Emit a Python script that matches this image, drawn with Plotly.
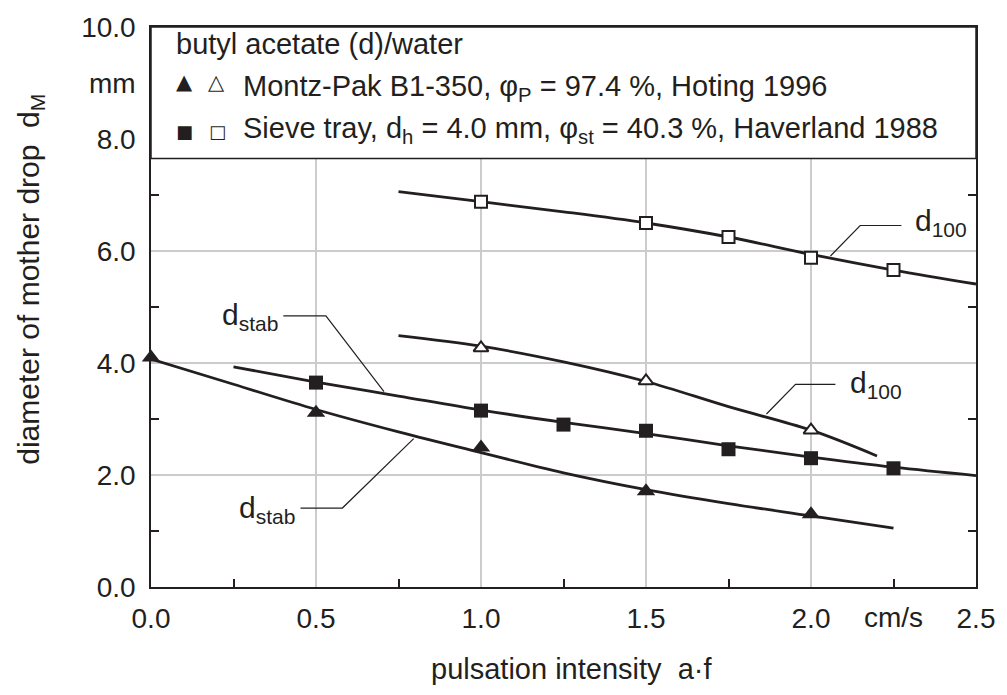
import plotly.graph_objects as go

# ---- data ----
# Montz-Pak B1-350 (triangles)
montz_stab_x = [0.0, 0.5, 1.0, 1.5, 2.0]
montz_stab_y = [4.10, 3.11, 2.49, 1.71, 1.30]
montz_d100_x = [1.0, 1.5, 2.0]
montz_d100_y = [4.27, 3.68, 2.80]
# Sieve tray (squares)
sieve_stab_x = [0.5, 1.0, 1.25, 1.5, 1.75, 2.0, 2.25]
sieve_stab_y = [3.65, 3.15, 2.90, 2.79, 2.46, 2.30, 2.12]
sieve_d100_x = [1.0, 1.5, 1.75, 2.0, 2.25]
sieve_d100_y = [6.88, 6.50, 6.25, 5.88, 5.66]

# fitted curves
fit_montz_stab_x = [0.0, 0.25, 0.5, 0.75, 1.0, 1.25, 1.5, 1.75, 2.0, 2.25]
fit_montz_stab_y = [4.07, 3.62, 3.17, 2.77, 2.40, 2.04, 1.74, 1.49, 1.27, 1.05]
fit_montz_d100_x = [0.75, 1.0, 1.25, 1.5, 1.75, 2.0, 2.2]
fit_montz_d100_y = [4.49, 4.30, 4.02, 3.67, 3.22, 2.80, 2.34]
fit_sieve_stab_x = [0.25, 0.5, 0.75, 1.0, 1.25, 1.5, 1.75, 2.0, 2.25, 2.5]
fit_sieve_stab_y = [3.93, 3.66, 3.41, 3.16, 2.94, 2.74, 2.52, 2.32, 2.14, 1.99]
fit_sieve_d100_x = [0.75, 1.0, 1.25, 1.5, 1.75, 2.0, 2.25, 2.5]
fit_sieve_d100_y = [7.06, 6.88, 6.70, 6.50, 6.25, 5.94, 5.66, 5.41]

x_tickvals = [0, 0.5, 1.0, 1.5, 2.0, 2.5]
x_ticktext = ["0.0", "0.5", "1.0", "1.5", "2.0", "2.5"]
x_minor = [0.25, 0.75, 1.25, 1.75, 2.25]
y_tickvals = [0, 2, 4, 6, 8, 9, 10]
y_ticktext = ["0.0", "2.0", "4.0", "6.0", "8.0", "mm", "10.0"]
y_minor = [1, 3, 5, 7]

INK = "#231f20"
GRID = "#cccccc"
FONT = "Liberation Sans, Arial, Helvetica, sans-serif"
FS = 28

fig = go.Figure()

for xs, ys in [(fit_sieve_d100_x, fit_sieve_d100_y), (fit_montz_d100_x, fit_montz_d100_y),
               (fit_sieve_stab_x, fit_sieve_stab_y), (fit_montz_stab_x, fit_montz_stab_y)]:
    fig.add_trace(go.Scatter(x=xs, y=ys, mode="lines", line=dict(color=INK, width=2.8, shape="spline", smoothing=1.0),
                             hoverinfo="skip", showlegend=False))

fig.add_trace(go.Scatter(x=sieve_d100_x, y=sieve_d100_y, mode="markers",
                         marker=dict(symbol="square", size=12, color="white", line=dict(color=INK, width=2)),
                         showlegend=False))
fig.add_trace(go.Scatter(x=montz_d100_x, y=montz_d100_y, mode="markers",
                         marker=dict(symbol="triangle-up", size=13, color="white", line=dict(color=INK, width=2)),
                         showlegend=False))
fig.add_trace(go.Scatter(x=sieve_stab_x, y=sieve_stab_y, mode="markers",
                         marker=dict(symbol="square", size=14, color=INK, line=dict(width=0)),
                         showlegend=False))
fig.add_trace(go.Scatter(x=montz_stab_x, y=montz_stab_y, mode="markers",
                         marker=dict(symbol="triangle-up", size=16, color=INK, line=dict(width=0)),
                         showlegend=False, cliponaxis=False))

shapes = [
    # legend box
    dict(type="rect", xref="x", yref="y", x0=0, x1=2.5, y0=7.65, y1=10, fillcolor="white",
         line=dict(color=INK, width=1.5), layer="above"),
    # leader lines
    dict(type="path", xref="x", yref="y", path="M 0.401,4.84 L 0.530,4.84 L 0.706,3.49",
         line=dict(color=INK, width=1.2)),
    dict(type="path", xref="x", yref="y", path="M 0.453,1.41 L 0.580,1.41 L 0.796,2.65",
         line=dict(color=INK, width=1.2)),
    dict(type="path", xref="x", yref="y", path="M 2.059,5.91 L 2.149,6.455 L 2.274,6.455",
         line=dict(color=INK, width=1.2)),
    dict(type="path", xref="x", yref="y", path="M 1.865,3.09 L 1.953,3.62 L 2.074,3.62",
         line=dict(color=INK, width=1.2)),
]

ann = []
def txt(x, y, text, size=FS, xa="left", ya="middle", xref="x", yref="y", family=FONT, angle=0):
    ann.append(dict(x=x, y=y, xref=xref, yref=yref, text=text, showarrow=False, xanchor=xa, yanchor=ya,
                    textangle=angle, font=dict(family=family, size=size, color=INK)))

# legend content
txt(0.069, 9.70, "butyl acetate (d)/water", size=29)
txt(0.102, 9.01, "▲", size=21, xa="center", family="DejaVu Sans")
txt(0.198, 9.01, "△", size=21, xa="center", family="DejaVu Sans")
txt(0.273, 8.91, "Montz-Pak B1-350, φ<sub>P</sub> = 97.4 %, Hoting 1996", size=29)
txt(0.102, 8.14, "■", size=18, xa="center", family="DejaVu Sans")
txt(0.201, 8.14, "□", size=18, xa="center", family="DejaVu Sans")
txt(0.273, 8.16, "Sieve tray, d<sub>h</sub> = 4.0 mm, φ<sub>st</sub> = 40.3 %, Haverland 1988", size=29)

# curve labels
txt(0.39, 4.83, "d<sub>stab</sub>", size=30, xa="right")
txt(0.441, 1.39, "d<sub>stab</sub>", size=30, xa="right")
txt(2.31, 6.51, "d<sub>100</sub>", size=30)
txt(2.112, 3.62, "d<sub>100</sub>", size=30)

# unit on x axis
ann.append(dict(x=2.25, y=0, xref="x", yref="paper", yshift=-13, text="cm/s", showarrow=False,
                xanchor="center", yanchor="top", font=dict(family=FONT, size=FS, color=INK)))
# axis titles
txt((575 - 151) / 831, (587 - 670) / 567, "pulsation intensity  a·f", size=29, xa="center",
    xref="paper", yref="paper")
txt((30 - 151) / 831, (587 - 275) / 567, "diameter of mother drop  d<sub>M</sub>", size=30, xa="center",
    xref="paper", yref="paper", angle=-90)

fig.update_layout(
    width=1007, height=695,
    margin=dict(l=151, r=25, t=20, b=108),
    paper_bgcolor="white", plot_bgcolor="white",
    shapes=shapes, annotations=ann,
    font=dict(family=FONT, color=INK),
    xaxis=dict(range=[0, 2.5], tickvals=x_tickvals, ticktext=x_ticktext, ticks="",
               showgrid=True, gridcolor=GRID, gridwidth=1.5, zeroline=False,
               showline=True, linecolor=INK, linewidth=1.5, mirror=True,
               tickfont=dict(size=FS, color=INK, family=FONT), ticklabelstandoff=6,
               minor=dict(tickvals=x_minor, ticks="inside", ticklen=8, tickcolor=INK, tickwidth=1.5, showgrid=False)),
    yaxis=dict(range=[0, 10], tickvals=y_tickvals, ticktext=y_ticktext, ticks="",
               showgrid=True, gridcolor=GRID, gridwidth=1.5, zeroline=False,
               showline=True, linecolor=INK, linewidth=1.5, mirror="ticks",
               tickfont=dict(size=FS, color=INK, family=FONT), ticklabelstandoff=8,
               minor=dict(tickvals=y_minor, ticks="inside", ticklen=8, tickcolor=INK, tickwidth=1.5, showgrid=False)),
)

fig.write_html("out.html")
